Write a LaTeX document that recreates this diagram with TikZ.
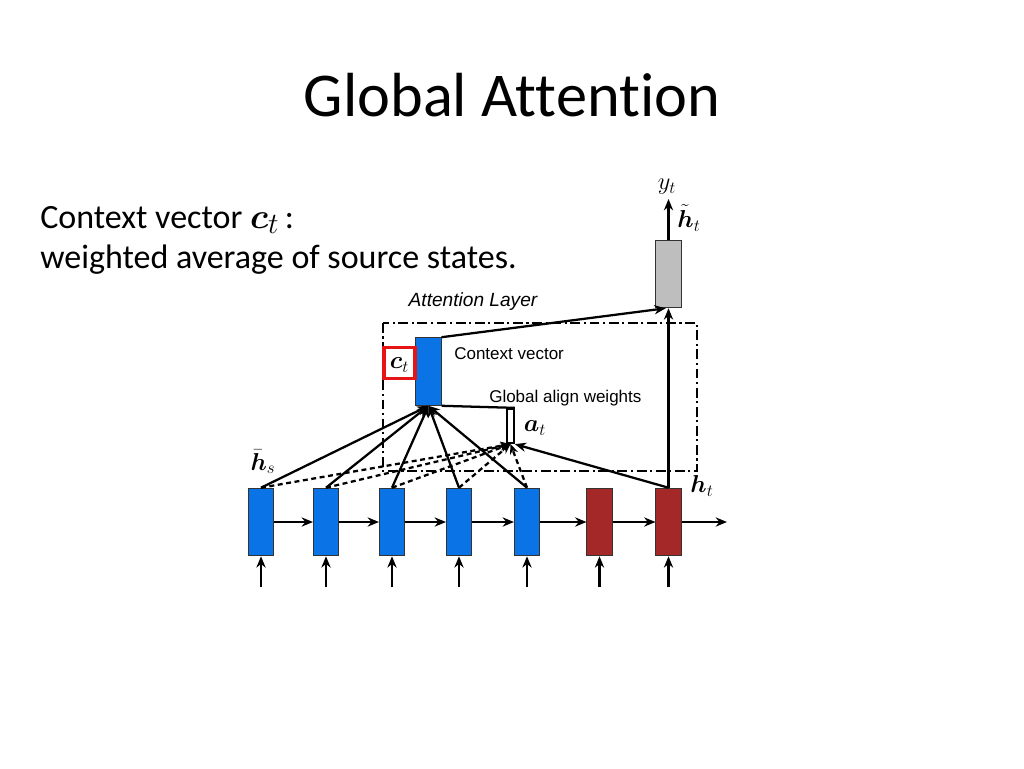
\documentclass[tikz,border=0pt]{standalone}
\usepackage{amsmath,bm}
\usepackage{fontspec}
\setmainfont[Ligatures=NoCommon]{Carlito}
\newfontfamily\figfont{Liberation Sans}
\usetikzlibrary{arrows.meta}
\definecolor{encblue}{RGB}{10,116,230}
\definecolor{decred}{RGB}{165,40,40}
\definecolor{attgray}{RGB}{190,190,190}
\definecolor{boxred}{RGB}{230,20,20}
\begin{document}
\begin{tikzpicture}[x=0.024805cm,y=-0.024805cm,
  state/.style={draw=black!80,line width=0.6pt,minimum width=17.8pt,minimum height=47.8pt,inner sep=0pt},
  conn/.style={line width=1.6pt,-{Stealth[length=8pt,width=6.5pt]}},
  plain/.style={line width=1.6pt},
  dsh/.style={line width=1.6pt,dash pattern=on 3.5pt off 2.5pt},
  dashdot/.style={line width=1.6pt,dash pattern=on 7pt off 2.5pt on 1.5pt off 2.5pt},
  figtxt/.style={font=\figfont\fontsize{12}{14}\selectfont,inner sep=0pt},
  mlab/.style={font=\fontsize{17}{19}\selectfont,inner sep=0pt}]
\useasboundingbox (0,0) rectangle (1024,768);
\fill[white] (0,0) rectangle (1024,768);

% title and body text
\node[anchor=base,inner sep=0pt,font=\fontsize{44}{48}\selectfont] (title) at (512,116) {Global Attention};
\node[anchor=base west,inner sep=0pt,font=\fontsize{24}{28}\selectfont] (line1) at (40,228) {Context vector {\fontsize{32}{32}\selectfont$\bm{c}_t$}\,:};
\node[anchor=base west,inner sep=0pt,font=\fontsize{24}{28}\selectfont] (line2) at (40,268) {weighted average of source states.};

% attention layer box
\draw[dashdot] (383,323) rectangle (697,471);
\node[figtxt,font=\figfont\itshape\fontsize{13.5}{15}\selectfont] (attl) at (473,302) {Attention Layer};

% states
\node[state,fill=encblue] (s1) at (261,522) {};
\node[state,fill=encblue] (s2) at (326,522) {};
\node[state,fill=encblue] (s3) at (392,522) {};
\node[state,fill=encblue] (s4) at (459,522) {};
\node[state,fill=encblue] (s5) at (527,522) {};
\node[state,fill=decred] (t1) at (599.5,522) {};
\node[state,fill=decred] (t2) at (668.5,522) {};
\node[state,fill=attgray] (g) at (668.5,274) {};
\node[state,fill=encblue] (c) at (428.5,371.5) {};
\node[draw,line width=1.6pt,minimum width=4.5pt,minimum height=24pt,inner sep=0pt] (a) at (510.5,426) {};

% input arrows
\foreach \n in {s1,s2,s3,s4,s5,t1,t2}{
  \coordinate (i\n) at ([yshift=-22pt]\n.south);
  \draw[conn] (i\n) -- (\n.south);
}
% horizontal recurrence
\draw[conn] (s1) -- (s2);
\draw[conn] (s2) -- (s3);
\draw[conn] (s3) -- (s4);
\draw[conn] (s4) -- (s5);
\draw[conn] (s5) -- (t1);
\draw[conn] (t1) -- (t2);
\coordinate (out) at (727,522);
\draw[conn] (t2) -- (out);

% dashed lines to alignment weights
\foreach \n in {s1,s2,s3,s4,s5}{
  \draw[dsh,-{Stealth[length=7pt,width=6pt]}] (\n.north) -- (a.south);
}
% solid lines to context vector
\foreach \n in {s1,s2,s3,s4,s5}{
  \draw[conn] (\n.north) -- (c.south);
}
\draw[conn] (t2.north) -- (a.south east);
\draw[plain] (c.south east) -- (a.north east);

% to attentional hidden state
\draw[conn] (t2.north) -- (g.south);
\draw[conn] (c.north east) -- ([xshift=-2pt]g.south);
\coordinate (ytop) at (668.5,199);
\draw[conn] (g.north) -- (ytop);

% labels
\node[draw=boxred,line width=2.4pt,minimum width=22pt,minimum height=22pt,inner sep=0pt] (ctbox) at (399.5,363) {};
\node[mlab] (ctl) at (399.5,365) {$\bm{c}_t$};
\node[figtxt,anchor=west] (cvl) at (454,354) {Context vector};
\node[figtxt,anchor=west] (gal) at (489,398) {Global align weights};
\node[mlab] (atl) at (535,428) {$\bm{a}_t$};
\node[mlab] (hsl) at (263,462) {$\bar{\bm{h}}_s$};
\node[mlab] (htl) at (702,486) {$\bm{h}_t$};
\node[mlab] (htil) at (689,218) {$\tilde{\bm{h}}_t$};
\node[mlab] (ytl) at (667,187) {$y_t$};
\end{tikzpicture}
\end{document}
